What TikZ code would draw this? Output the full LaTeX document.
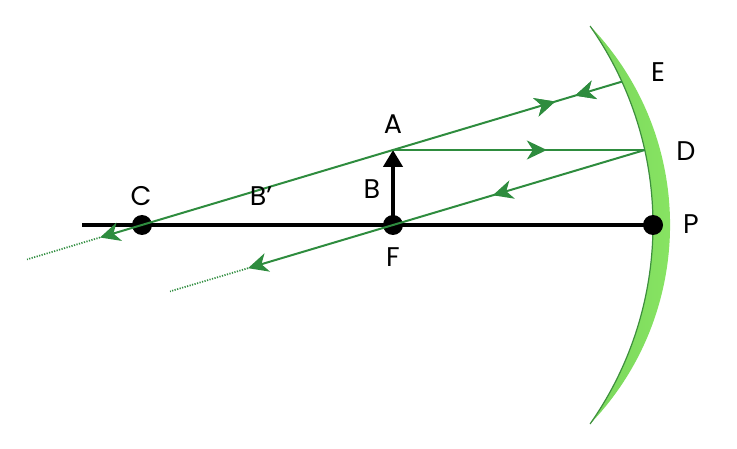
\documentclass[tikz,border=0pt]{standalone}
\usepackage{fontspec}
\setmainfont{Poppins}
\usetikzlibrary{arrows.meta,decorations.markings}
\definecolor{raygreen}{RGB}{46,140,62}
\definecolor{mirrordark}{RGB}{72,168,72}
\definecolor{mirrorlight}{RGB}{140,232,100}
\tikzset{
	lightray/.style={raygreen, line width=2pt},
	dotray/.style={raygreen, line width=1.7pt, dash pattern=on 1.2pt off 1.4pt},
	tipat/.style={postaction={decorate}, decoration={markings,
		mark=at position #1 with {\arrow{Stealth[length=20pt,width=19pt,inset=6pt]}}}},
	tipback/.style={postaction={decorate}, decoration={markings,
		mark=at position #1 with {\arrowreversed{Stealth[length=20pt,width=19pt,inset=6pt]}}}},
	dot/.style={circle, fill=black, inner sep=0pt, minimum size=20pt},
	lbl/.style={font=\fontsize{27}{30}\selectfont, inner sep=0pt}
}
\begin{document}
\begin{tikzpicture}[x=1pt,y=1pt]
		\useasboundingbox (0,0) rectangle (737,448);
		% mirror
		\shade[left color=mirrordark, right color=mirrorlight]
			(307,223) ++(35.1:346pt) arc[start angle=35.1, end angle=-35.1, radius=346pt]
			arc[start angle=-43.8, end angle=43.8, radius=287.5pt] -- cycle;
		\draw[mirrordark!85!black, line width=1.2pt]
			(307,223) ++(35.1:346pt) arc[start angle=35.1, end angle=-35.1, radius=346pt];
		% points
		\coordinate (E) at (622,366.4);
		\coordinate (D) at (644.8,298);
		\coordinate (A) at (393,298);
		\coordinate (endC) at (100,210.5);
		\coordinate (dotC) at (27,188.6);
		\coordinate (endF) at (248,179.8);
		\coordinate (dotF) at (170,156.6);
		\coordinate (axisL) at (82,223);
		\node[dot] (C) at (142,223) {};
		\node[dot] (F) at (393,223) {};
		\node[dot] (P) at (653,223) {};
		% axis and object
		\draw[line width=3.2pt] (axisL) -- (P.center);
		\draw[line width=4.5pt, -{Triangle[length=17pt,width=19pt]}] (F.center) -- (A);
		% rays
		\draw[lightray, tipat=0.09, tipback=0.128, -{Stealth[length=20pt,width=19pt,inset=6pt]}] (E) -- (endC);
		\draw[dotray] (endC) -- (dotC);
		\draw[lightray, tipat=0.611] (A) -- (D);
		\draw[lightray, tipat=0.383, -{Stealth[length=20pt,width=19pt,inset=6pt]}] (D) -- (endF);
		\draw[dotray] (endF) -- (dotF);
		% labels
		\node[lbl] (lE) at (658,376) {E};
		\node[lbl] (lD) at (686,297) {D};
		\node[lbl] (lP) at (691,224) {P};
		\node[lbl] (lA) at (393,324) {A};
		\node[lbl] (lB) at (372,259) {B};
		\node[lbl] (lF) at (393,191) {F};
		\node[lbl] (lC) at (141,252) {C};
		\node[lbl] (lBp) at (261,252) {B’};
	\end{tikzpicture}
\end{document}
